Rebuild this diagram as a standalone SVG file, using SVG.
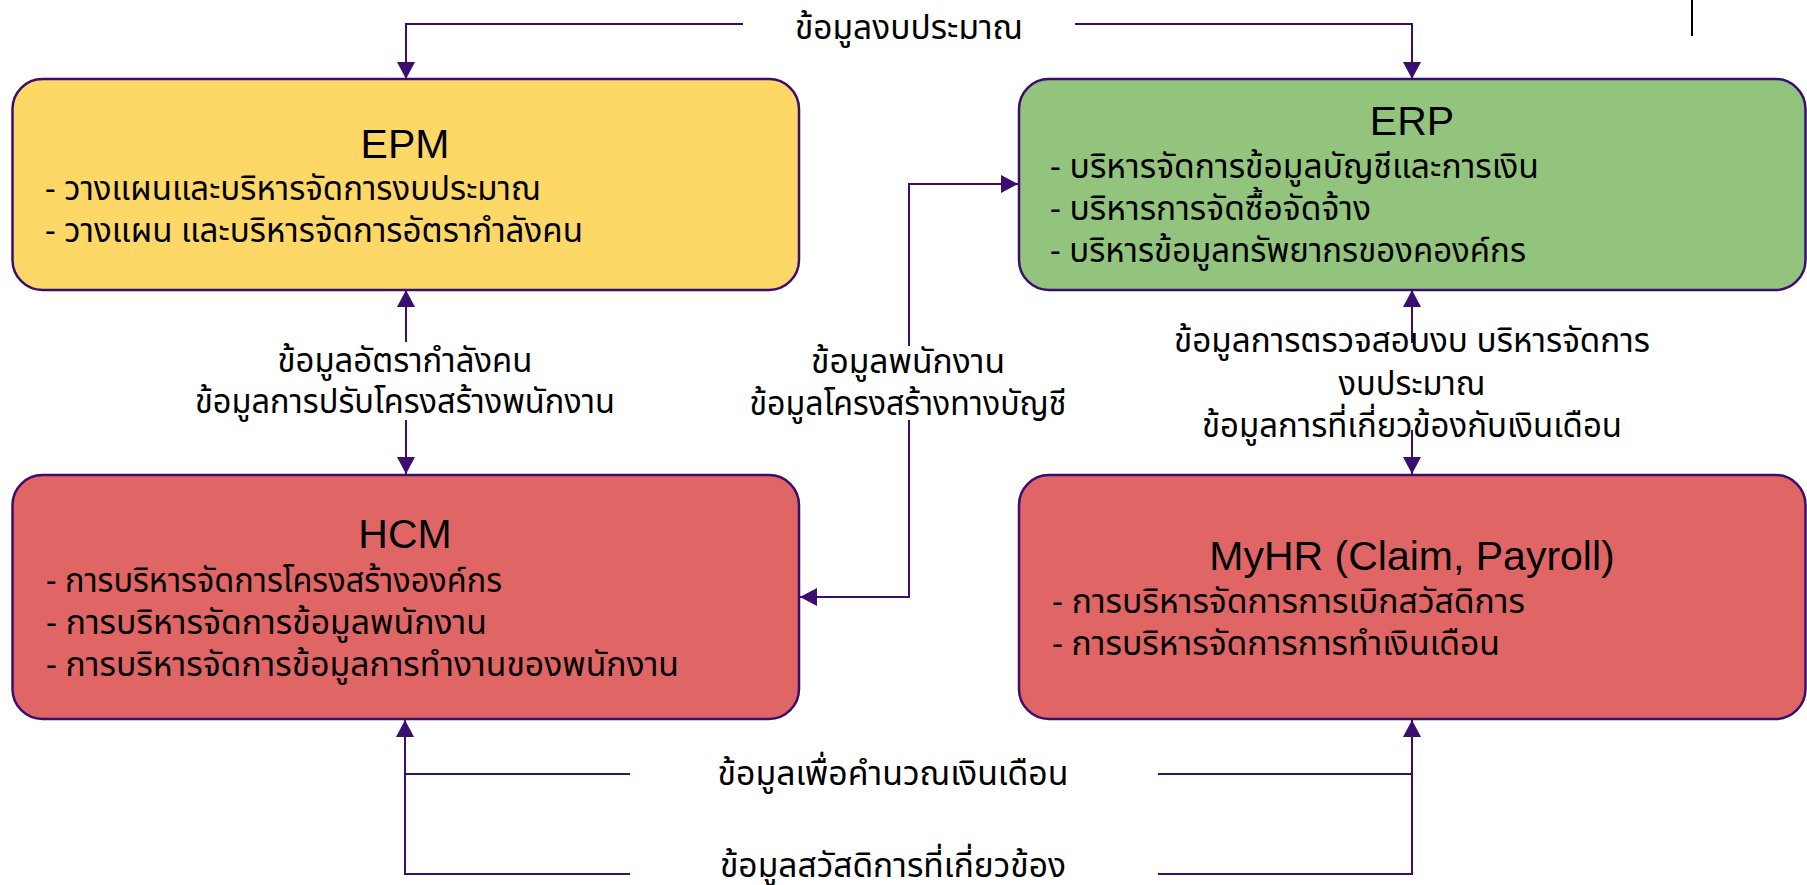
<svg xmlns="http://www.w3.org/2000/svg" width="1807" height="885" viewBox="0 0 1807 885">
<defs>
<style>
.box{stroke:#3a0d6e;stroke-width:2.5}
.epm{fill:#fdd867}
.erp{fill:#93c47d}
.red{fill:#e06666}
.title{font-family:"Liberation Sans",Arial,sans-serif;font-size:41px;fill:#000;text-anchor:middle}
.t{font-family:"Noto Sans","Noto Sans Thai",sans-serif;font-size:33px;fill:#000}
.c{text-anchor:middle}
.conn path{fill:none;stroke:#3a0d6e;stroke-width:2}
</style>
<marker id="ah" viewBox="0 0 17 18" refX="17" refY="9" markerWidth="17" markerHeight="18" markerUnits="userSpaceOnUse" orient="auto">
<path d="M0,0 L17,9 L0,18 z" fill="#3a0d6e"/>
</marker>
</defs>
<rect width="1807" height="885" fill="#fff"/>

<g id="EPM">
<rect class="box epm" x="12.5" y="79" width="786.5" height="211" rx="30"/>
<text class="title" x="405" y="158">EPM</text>
<text class="t" x="45" y="200" textLength="496" lengthAdjust="spacingAndGlyphs">- วางแผนและบริหารจัดการงบประมาณ</text>
<text class="t" x="45" y="242" textLength="538" lengthAdjust="spacingAndGlyphs">- วางแผน และบริหารจัดการอัตรากำลังคน</text>
</g>

<g id="ERP">
<rect class="box erp" x="1019" y="79" width="786.5" height="211" rx="30"/>
<text class="title" x="1412" y="135">ERP</text>
<text class="t" x="1050" y="178" textLength="489" lengthAdjust="spacingAndGlyphs">- บริหารจัดการข้อมูลบัญชีและการเงิน</text>
<text class="t" x="1050" y="220" textLength="321" lengthAdjust="spacingAndGlyphs">- บริหารการจัดซื้อจัดจ้าง</text>
<text class="t" x="1050" y="262" textLength="476" lengthAdjust="spacingAndGlyphs">- บริหารข้อมูลทรัพยากรของคองค์กร</text>
</g>

<g id="HCM">
<rect class="box red" x="12.5" y="475" width="786.5" height="244" rx="30"/>
<text class="title" x="405" y="548">HCM</text>
<text class="t" x="46" y="592" textLength="456" lengthAdjust="spacingAndGlyphs">- การบริหารจัดการโครงสร้างองค์กร</text>
<text class="t" x="46" y="634" textLength="441" lengthAdjust="spacingAndGlyphs">- การบริหารจัดการข้อมูลพนักงาน</text>
<text class="t" x="46" y="676" textLength="633" lengthAdjust="spacingAndGlyphs">- การบริหารจัดการข้อมูลการทำงานของพนักงาน</text>
</g>

<g id="MyHR">
<rect class="box red" x="1019" y="475" width="786.5" height="244" rx="30"/>
<text class="title" x="1412" y="570">MyHR (Claim, Payroll)</text>
<text class="t" x="1052" y="613" textLength="473" lengthAdjust="spacingAndGlyphs">- การบริหารจัดการการเบิกสวัสดิการ</text>
<text class="t" x="1052" y="655" textLength="448" lengthAdjust="spacingAndGlyphs">- การบริหารจัดการการทำเงินเดือน</text>
</g>

<g id="connectors" class="conn">
<path d="M743,24 H406 V79" marker-end="url(#ah)"/>
<path d="M1075,24 H1412 V79" marker-end="url(#ah)"/>
<path d="M406,342 V290" marker-end="url(#ah)"/>
<path d="M406,420 V474" marker-end="url(#ah)"/>
<path d="M1412,343 V290" marker-end="url(#ah)"/>
<path d="M1412,430 V474" marker-end="url(#ah)"/>
<path d="M909,346 V184 H1018" marker-end="url(#ah)"/>
<path d="M909,420 V597 H800" marker-end="url(#ah)"/>
<path d="M630,874 H405 V720" marker-end="url(#ah)"/>
<path d="M630,774 H405"/>
<path d="M1158,874 H1412 V720" marker-end="url(#ah)"/>
<path d="M1158,774 H1412"/>
</g>

<g id="labels">
<text class="t c" x="909" y="39" textLength="228" lengthAdjust="spacingAndGlyphs">ข้อมูลงบประมาณ</text>
<text class="t c" x="405" y="372" textLength="255" lengthAdjust="spacingAndGlyphs">ข้อมูลอัตรากำลังคน</text>
<text class="t c" x="405" y="413" textLength="420" lengthAdjust="spacingAndGlyphs">ข้อมูลการปรับโครงสร้างพนักงาน</text>
<text class="t c" x="908" y="373" textLength="194" lengthAdjust="spacingAndGlyphs">ข้อมูลพนักงาน</text>
<text class="t c" x="908" y="415" textLength="317" lengthAdjust="spacingAndGlyphs">ข้อมูลโครงสร้างทางบัญชี</text>
<text class="t c" x="1412" y="352" textLength="476" lengthAdjust="spacingAndGlyphs">ข้อมูลการตรวจสอบงบ บริหารจัดการ</text>
<text class="t c" x="1412" y="395" textLength="147" lengthAdjust="spacingAndGlyphs">งบประมาณ</text>
<text class="t c" x="1412" y="437" textLength="420" lengthAdjust="spacingAndGlyphs">ข้อมูลการที่เกี่ยวข้องกับเงินเดือน</text>
<text class="t c" x="893" y="785" textLength="351" lengthAdjust="spacingAndGlyphs">ข้อมูลเพื่อคำนวณเงินเดือน</text>
<text class="t c" x="893" y="877" textLength="346" lengthAdjust="spacingAndGlyphs">ข้อมูลสวัสดิการที่เกี่ยวข้อง</text>
</g>

<path d="M1692,0 V36" stroke="#000" stroke-width="2"/>
</svg>
